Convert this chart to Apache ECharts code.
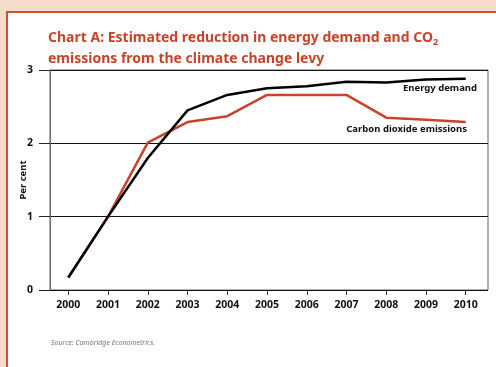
<!DOCTYPE html>
<html>
<head>
<meta charset="utf-8">
<script src="https://cdn.jsdelivr.net/npm/echarts@6/dist/echarts.min.js"></script>
<style>
  html, body { margin: 0; padding: 0; }
  body { width: 496px; height: 367px; background: #f6dccb; position: relative; overflow: hidden; }
  #panel { position: absolute; left: 6px; top: 11px; right: -4px; bottom: -4px;
           background: #ffffff; border-left: 2px solid #d64e2c; border-top: 2px solid #d64e2c; }
  #chart { position: absolute; left: 0; top: 0; width: 496px; height: 367px; }
</style>
</head>
<body>
<div id="panel"></div>
<div id="chart"></div>
<script>
// Years on the horizontal axis
const years = [2000, 2001, 2002, 2003, 2004, 2005, 2006, 2007, 2008, 2009, 2010];
// Estimated reduction, per cent
const energyDemand = [0.17, 1.00, 1.80, 2.45, 2.66, 2.75, 2.78, 2.84, 2.83, 2.87, 2.88];
const co2Emissions = [0.17, 1.00, 2.01, 2.29, 2.37, 2.66, 2.66, 2.66, 2.35, 2.32, 2.29];
// Value-axis ticks
const yTicks = [0, 1, 2, 3];

const RED = '#c8432b';
const FONT = '"Noto Sans", "Open Sans", sans-serif';

const chart = echarts.init(document.getElementById('chart'), null, { renderer: 'canvas' });

chart.setOption({
  animation: false,
  title: {
    left: 43,
    top: 23,
    text: '{a|Chart A: Estimated reduction in energy demand and CO}{s|2}\n{a|emissions from the climate change levy}',
    textStyle: {
      rich: {
        a: { fontFamily: FONT, fontWeight: 'bold', fontSize: 14, color: RED, lineHeight: 21 },
        s: { fontFamily: FONT, fontWeight: 'bold', fontSize: 9, color: RED, lineHeight: 21, padding: [8, 0, 0, 0] }
      }
    }
  },
  grid: {
    left: 50, top: 70, right: 8, bottom: 77,
    show: true, borderColor: '#666', borderWidth: 1, backgroundColor: 'transparent'
  },
  xAxis: {
    type: 'value',
    min: 1999.54,
    max: 2010.56,
    axisLine: { show: false },
    splitLine: { show: false },
    axisTick: {
      show: true, length: 5, customValues: years,
      lineStyle: { color: '#333', width: 1 }
    },
    axisLabel: {
      customValues: years,
      margin: 10,
      fontFamily: FONT, fontWeight: 'bold', fontSize: 10.5, color: '#111',
      formatter: v => String(v)
    }
  },
  yAxis: {
    type: 'value',
    min: 0, max: 3, interval: 1,
    name: 'Per cent',
    nameLocation: 'middle',
    nameRotate: 90,
    nameGap: 22,
    nameMoveOverlap: false,
    nameTextStyle: { fontFamily: FONT, fontWeight: 'bold', fontSize: 9.5, color: '#111' },
    axisLine: { show: true, lineStyle: { color: '#666', width: 1 } },
    axisTick: { show: true, length: 11, lineStyle: { color: '#222', width: 1 } },
    splitLine: { show: true, lineStyle: { color: '#111', width: 1 } },
    axisLabel: {
      margin: 17,
      fontFamily: FONT, fontWeight: 'bold', fontSize: 10.5, color: '#111',
      customValues: yTicks
    }
  },
  series: [
    {
      name: 'Carbon dioxide emissions',
      type: 'line',
      data: years.map((y, i) => [y, co2Emissions[i]]),
      symbol: 'none',
      lineStyle: { color: RED, width: 2.5 },
      z: 3
    },
    {
      name: 'Energy demand',
      type: 'line',
      data: years.map((y, i) => [y, energyDemand[i]]),
      symbol: 'none',
      lineStyle: { color: '#000', width: 2.5 },
      z: 4
    }
  ],
  graphic: [
    {
      type: 'text', right: 19, top: 83,
      style: { text: 'Energy demand', fontFamily: FONT, fontWeight: 'bold', fontSize: 9.5, fill: '#111' }
    },
    {
      type: 'text', right: 29, top: 124,
      style: { text: 'Carbon dioxide emissions', fontFamily: FONT, fontWeight: 'bold', fontSize: 9.5, fill: '#111' }
    },
    {
      type: 'text', left: 51, top: 339,
      style: { text: 'Source: Cambridge Econometrics.', fontFamily: FONT, fontStyle: 'italic', fontSize: 7, fill: '#777' }
    }
  ]
});
</script>
</body>
</html>
